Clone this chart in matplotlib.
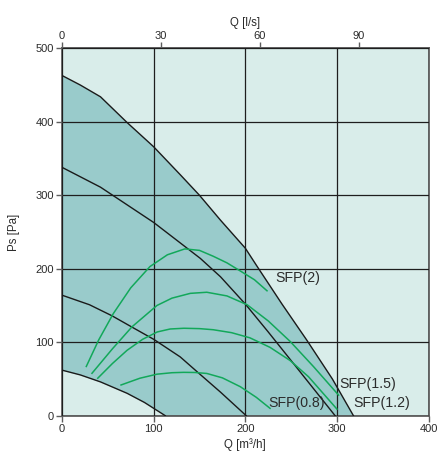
import numpy as np
import matplotlib
matplotlib.use('Agg')
import matplotlib.pyplot as plt

plt.rcParams['font.family'] = ['Liberation Sans', 'DejaVu Sans']

# --- 曲线数据 (Q [m3/h], Ps [Pa]) 从图上读取 ---
q_max = [0, 20, 42, 71, 100, 129, 150, 173, 200, 213, 240, 267, 295, 318]
p_max = [463, 450, 434, 399, 366, 328, 300, 266, 228, 203, 152, 103, 50, 0]

q_mid = [0, 42, 100, 125, 151, 173, 200, 225, 250, 298]
p_mid = [338, 311, 263, 239, 214, 189, 152, 114, 75, 0]

q_low = [0, 30, 54.5, 80, 100, 129, 150, 173, 201]
p_low = [164, 151, 136, 118, 104, 80, 57, 32, 0]

q_min = [0, 20, 42, 71, 90, 112.7]
p_min = [62, 55.5, 46, 30.5, 18, 0]

# SFP 曲线
q_sfp2 = [26.5, 40, 56, 75, 96, 115, 134, 150, 165, 180, 194.5, 210, 223.7]
p_sfp2 = [67, 103, 139, 174, 203, 219, 227, 225, 217, 208, 197, 185, 170]

q_sfp15 = [32.7, 55, 76.4, 103.6, 120, 140, 158, 180, 202, 225, 249, 274.5, 301.8]
p_sfp15 = [57.7, 91, 121, 150, 160, 166.5, 168, 163, 151, 129, 101, 66.7, 28]

q_sfp12 = [39, 55, 71, 88, 104, 118, 133, 150, 165, 185, 205, 227, 249, 269, 300]
p_sfp12 = [51, 71, 89, 104, 114, 118, 119, 118.5, 117, 113, 106, 93, 75, 53, 9]

q_sfp08 = [64.4, 85, 103.6, 120, 132.7, 145, 158, 175, 194.5, 212, 227]
p_sfp08 = [41.8, 51, 56.5, 58.5, 59, 58.8, 57.5, 51.5, 39.5, 25, 10]

sfp_labels = ['SFP(2)', 'SFP(1.5)', 'SFP(1.2)', 'SFP(0.8)']
label_q = [233, 303, 317.5, 225.5]
label_p = [187, 43, 17, 17.5]

x_ticks = [0, 100, 200, 300, 400]
y_ticks = [0, 100, 200, 300, 400, 500]
top_ticks = [0, 30, 60, 90]

LIGHT = '#d9edea'
DARK = '#99cbcb'
GREEN = '#12a85a'
TXT = '#2b2b2b'
SPINE = '#5e5e5e'

fig = plt.figure(figsize=(4.39, 4.51), dpi=100)
ax = fig.add_axes([62 / 439, 35.3 / 451, 366.6 / 439, 367.4 / 451])
ax.set_facecolor(LIGHT)

# 深色工作区域: 最大曲线与最小曲线之间
q_fill = np.linspace(0, q_max[-1], 300)
upper = np.interp(q_fill, q_max, p_max)
lower = np.interp(q_fill, q_min, p_min, right=0)
ax.fill_between(q_fill, lower, upper, color=DARK, lw=0, zorder=1)

ax.set_axisbelow(False)
ax.grid(True, color='#1e1e1e', lw=0.9, zorder=2)

for q, p in [(q_max, p_max), (q_mid, p_mid), (q_low, p_low), (q_min, p_min)]:
    ax.plot(q, p, color='#1a1a1a', lw=1.0, zorder=3, solid_joinstyle='round')

for q, p in [(q_sfp2, p_sfp2), (q_sfp15, p_sfp15), (q_sfp12, p_sfp12), (q_sfp08, p_sfp08)]:
    ax.plot(q, p, color=GREEN, lw=1.1, zorder=4, solid_joinstyle='round')

for txt, q, p in zip(sfp_labels, label_q, label_p):
    ax.text(q, p, txt, fontsize=10.2, color=TXT, ha='left', va='center', zorder=5)

ax.set_xlim(0, 400)
ax.set_ylim(0, 500)
ax.set_xticks(x_ticks)
ax.set_yticks(y_ticks)
ax.tick_params(direction='out', length=4, width=1, color=SPINE,
               labelsize=8, labelcolor=TXT, pad=2)
for s in ax.spines.values():
    s.set_color(SPINE)
    s.set_linewidth(1.3)

ax.set_xlabel('Q [m³/h]', fontsize=8.3, color=TXT, labelpad=3)
ax.set_ylabel('Ps [Pa]', fontsize=8.3, color=TXT, labelpad=11)

top = ax.secondary_xaxis('top', functions=(lambda q: q / 3.6, lambda l: l * 3.6))
top.set_xticks(top_ticks)
top.tick_params(direction='out', length=4, width=1, color=SPINE,
                labelsize=8, labelcolor=TXT, pad=1)
top.spines['top'].set_color(SPINE)
top.spines['top'].set_linewidth(1.3)
top.set_xlabel('Q [l/s]', fontsize=8.3, color=TXT, labelpad=4)

fig.savefig('out.png', dpi=100)
